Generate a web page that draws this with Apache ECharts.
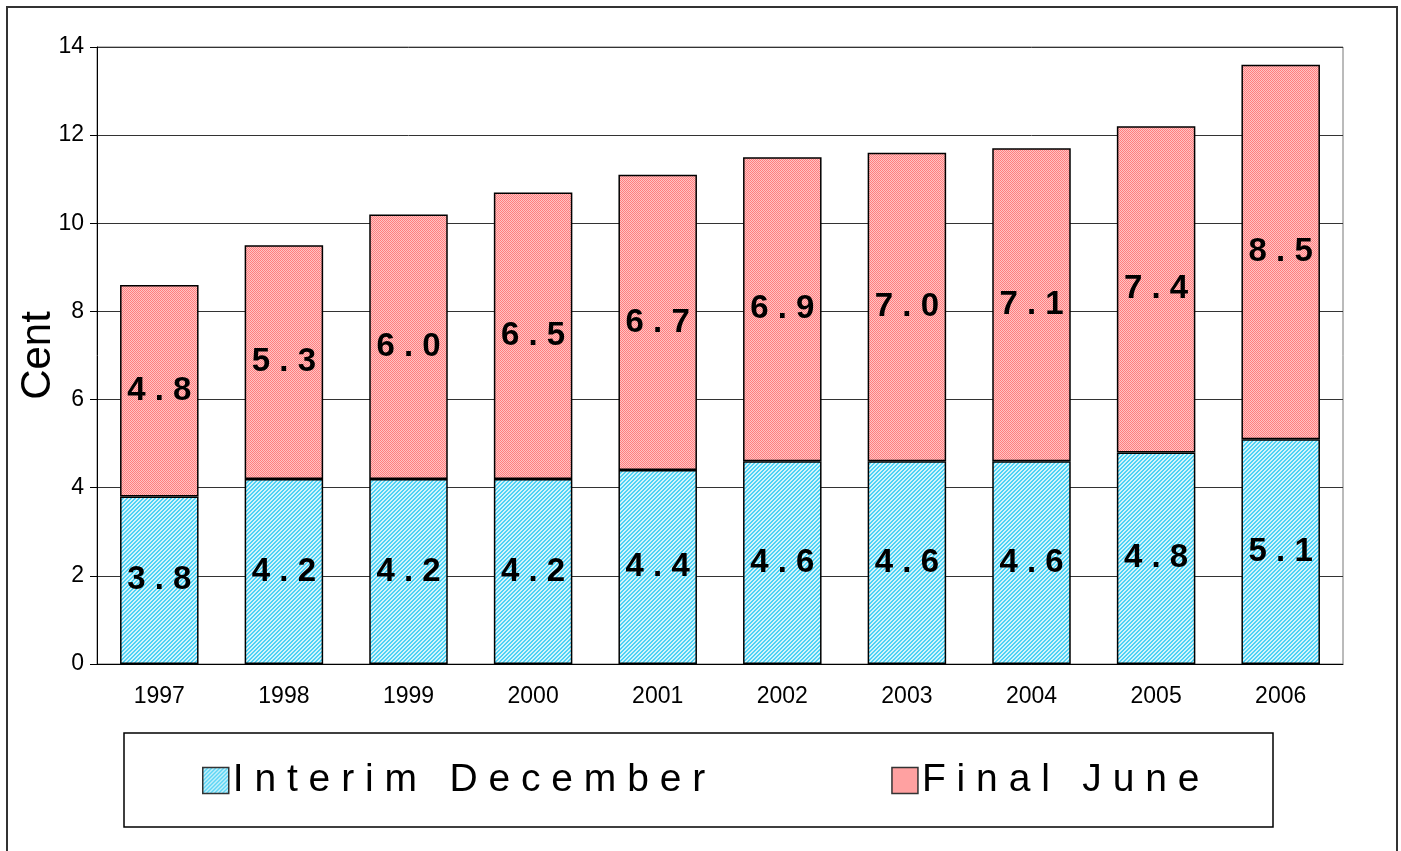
<!DOCTYPE html>
<html>
<head>
<meta charset="utf-8">
<script src="https://cdn.jsdelivr.net/npm/echarts@6/dist/echarts.min.js"></script>
<style>
  html, body { margin: 0; padding: 0; background: #fff; }
  #chart { width: 1401px; height: 851px; }
</style>
</head>
<body>
<div id="chart"></div>
<script>
const years = ['1997', '1998', '1999', '2000', '2001', '2002', '2003', '2004', '2005', '2006']
const interimDecember = [3.8, 4.2, 4.2, 4.2, 4.4, 4.6, 4.6, 4.6, 4.8, 5.1]
const finalJune = [4.8, 5.3, 6.0, 6.5, 6.7, 6.9, 7.0, 7.1, 7.4, 8.5]

const font = "'Liberation Sans', Arial, sans-serif"

// small dithered fills, like the old office hatch patterns
function makePattern(a, b, diagonal) {
  const c = document.createElement('canvas')
  c.width = 4
  c.height = 4
  const ctx = c.getContext('2d')
  ctx.fillStyle = b
  ctx.fillRect(0, 0, 4, 4)
  ctx.fillStyle = a
  for (let y = 0; y < 4; y++) {
    for (let x = 0; x < 4; x++) {
      const on = diagonal ? ((x + y) % 4 < 2) : ((x + y) % 2 === 0)
      if (on) ctx.fillRect(x, y, 1, 1)
    }
  }
  return { image: c, repetition: 'repeat' }
}

const bluePattern = makePattern('#4fd2f5', '#d2f4fb', true)
const pinkPattern = makePattern('#ff7f7f', '#ffc4c4', false)

const spaced = s => String(s).split('').join(' ')

const labelStyle = {
  show: true,
  position: 'inside',
  fontFamily: font,
  fontSize: 33,
  fontWeight: 'bold',
  color: '#000',
  formatter: p => spaced(p.value.toFixed(1))
}

const chart = echarts.init(document.getElementById('chart'))
chart.setOption({
  animation: false,
  backgroundColor: '#fff',
  grid: {
    left: 97,
    right: 58,
    top: 47,
    bottom: 187,
    outerBoundsMode: 'none',
    containLabel: false,
    show: true,
    borderColor: '#777',
    borderWidth: 1
  },
  graphic: [
    {
      type: 'rect',
      shape: { x: 7, y: 7, width: 1390, height: 860 },
      style: { fill: null, stroke: '#333', lineWidth: 2 },
      z: -1
    },
    {
      type: 'rect',
      shape: { x: 124, y: 733, width: 1149, height: 94 },
      style: { fill: null, stroke: '#000', lineWidth: 1.5 },
      z: -1
    }
  ],
  legend: {
    left: 202,
    top: 761,
    padding: 0,
    itemWidth: 26,
    itemHeight: 26,
    itemGap: 186,
    icon: 'rect',
    itemStyle: { borderColor: '#333', borderWidth: 1.5 },
    textStyle: { fontFamily: font, fontSize: 39, color: '#000', padding: [0, 0, 0, -1] },
    formatter: name => spaced(name)
  },
  xAxis: {
    type: 'category',
    data: years,
    axisLine: { lineStyle: { color: '#000', width: 1 } },
    axisTick: { length: 6, lineStyle: { color: '#000' } },
    axisLabel: { fontFamily: font, fontSize: 23, color: '#000', margin: 21 }
  },
  yAxis: {
    type: 'value',
    min: 0,
    max: 14,
    interval: 2,
    name: 'Cent',
    nameLocation: 'middle',
    nameGap: 38,
    nameMoveOverlap: false,
    nameTextStyle: { fontFamily: font, fontSize: 42, color: '#000' },
    axisLine: { show: true, lineStyle: { color: '#000', width: 1 } },
    axisTick: { show: true, length: 7, lineStyle: { color: '#000' } },
    axisLabel: { fontFamily: font, fontSize: 23, color: '#000', margin: 13 },
    splitLine: { lineStyle: { color: '#333', width: 1 } }
  },
  series: [
    {
      name: 'Interim December',
      type: 'bar',
      stack: 'div',
      barCategoryGap: '37%',
      data: interimDecember,
      itemStyle: { color: bluePattern, borderColor: '#000', borderWidth: 1.5 },
      label: labelStyle
    },
    {
      name: 'Final June',
      type: 'bar',
      stack: 'div',
      barCategoryGap: '37%',
      data: finalJune,
      itemStyle: { color: pinkPattern, borderColor: '#000', borderWidth: 1.5 },
      label: labelStyle
    }
  ]
})
</script>
</body>
</html>
